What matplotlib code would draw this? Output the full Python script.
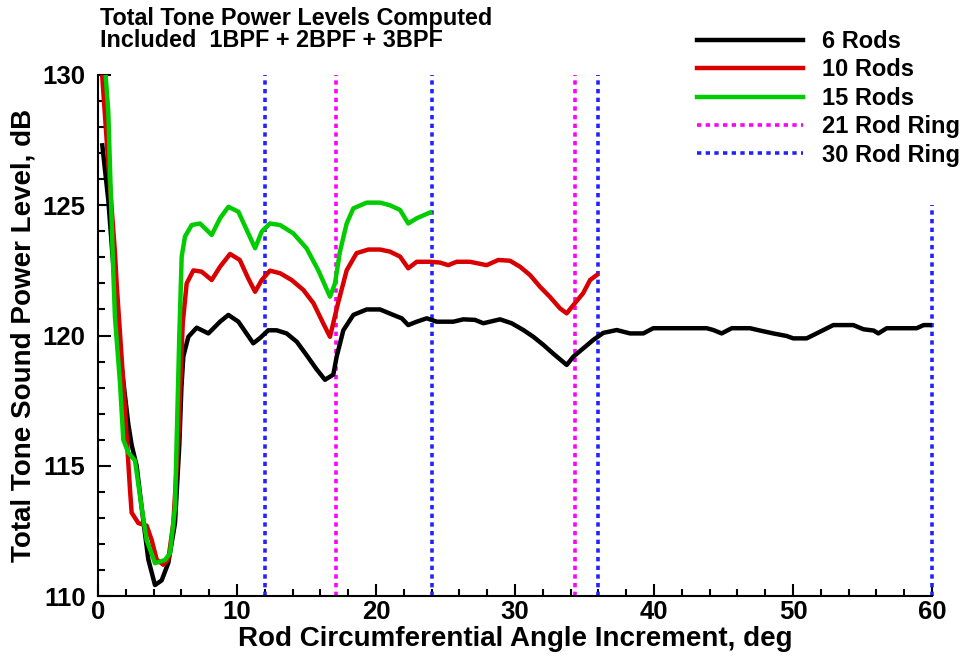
import matplotlib
matplotlib.use("Agg")
import matplotlib.pyplot as plt
from matplotlib.ticker import MultipleLocator

plt.rcParams['font.family'] = ['Liberation Sans', 'DejaVu Sans']
plt.rcParams['font.weight'] = 'bold'

# ---- data ----
x_6rods = [0.31, 0.74, 1.2, 1.7, 2.18, 2.42, 2.78, 3.14, 3.62, 4.1, 4.58, 5.06, 5.54, 5.85, 6.0,
           6.14, 6.5, 7.1, 7.94, 8.78, 9.38, 10.1, 11.17, 11.65, 12.25, 12.85, 13.57, 14.3, 15.0,
           15.73, 16.33, 16.93, 17.17, 17.65, 18.37, 19.33, 20.29, 21.24, 21.85, 22.32, 22.93,
           23.65, 24.37, 25.56, 26.28, 27.12, 27.72, 28.92, 29.76, 30.6, 31.32, 32.04, 32.76,
           33.72, 34.2, 34.92, 35.63, 36.35, 37.32, 38.27, 39.23, 39.95, 43.79, 44.27, 44.87,
           45.59, 46.9, 47.63, 48.58, 49.55, 50.02, 50.98, 51.7, 52.9, 54.34, 55.06, 55.8, 56.14,
           56.74, 58.9, 59.4, 59.9]
y_6rods = [127.3, 125.2, 122.0, 118.8, 116.6, 115.8, 115.0, 113.4, 111.4, 110.42, 110.6, 111.27,
           112.8, 115.8, 118.0, 119.2, 119.95, 120.3, 120.08, 120.53, 120.79, 120.53, 119.7, 119.9,
           120.2, 120.2, 120.08, 119.76, 119.25, 118.7, 118.3, 118.5, 119.19, 120.2, 120.79, 121.0,
           121.0, 120.79, 120.66, 120.4, 120.53, 120.66, 120.53, 120.53, 120.62, 120.6, 120.47,
           120.62, 120.47, 120.21, 119.95, 119.64, 119.3, 118.87, 119.19, 119.51, 119.83, 120.1,
           120.21, 120.08, 120.08, 120.28, 120.28, 120.21, 120.08, 120.28, 120.28, 120.19, 120.08,
           119.98, 119.89, 119.89, 120.08, 120.4, 120.4, 120.24, 120.19, 120.08, 120.28, 120.28,
           120.4, 120.4]

x_10rods = [0.3, 0.74, 1.22, 1.34, 1.82, 2.1, 2.3, 2.42, 2.9, 3.5, 3.86, 4.22, 4.7, 5.06, 5.42,
            5.78, 5.95, 6.1, 6.38, 6.86, 7.46, 8.18, 8.78, 9.5, 10.2, 10.8, 11.3, 11.78, 12.37,
            13.1, 13.93, 14.77, 15.5, 16.2, 16.69, 17.25, 17.89, 18.6, 19.45, 20.29, 21.0, 21.73,
            22.32, 22.93, 23.88, 24.6, 25.2, 25.8, 26.76, 27.96, 28.8, 29.64, 30.36, 31.08, 31.8,
            32.5, 33.24, 33.72, 34.2, 34.9, 35.4, 35.88]
y_10rods = [130.0, 126.6, 123.2, 122.0, 118.2, 115.8, 114.1, 113.2, 112.8, 112.7, 112.15, 111.4,
            111.2, 111.4, 112.8, 116.0, 118.5, 120.5, 122.0, 122.5, 122.45, 122.13, 122.64,
            123.13, 122.9, 122.2, 121.68, 122.13, 122.49, 122.39, 122.13, 121.75, 121.24, 120.47,
            119.95, 121.2, 122.5, 123.16, 123.3, 123.3, 123.22, 123.03, 122.58, 122.83, 122.83,
            122.8, 122.7, 122.83, 122.83, 122.7, 122.9, 122.87, 122.64, 122.32, 121.87, 121.49,
            121.04, 120.85, 121.17, 121.62, 122.13, 122.32]

x_15rods = [0.55, 0.74, 1.05, 1.22, 1.58, 1.82, 2.18, 2.66, 3.14, 3.5, 4.1, 4.82, 5.18, 5.54,
            5.66, 5.85, 6.02, 6.26, 6.74, 7.34, 8.18, 8.78, 9.38, 10.1, 10.7, 11.3, 11.78, 12.37,
            13.1, 14.05, 15.0, 15.85, 16.69, 17.05, 17.4, 17.89, 18.37, 19.33, 20.29, 21.0, 21.73,
            22.32, 22.93, 23.88]
y_15rods = [130.0, 128.6, 123.2, 120.7, 118.2, 116.0, 115.5, 115.2, 113.4, 112.15, 111.26, 111.38,
            111.64, 113.4, 116.0, 120.0, 123.03, 123.8, 124.24, 124.3, 123.86, 124.5, 124.94,
            124.75, 124.05, 123.35, 123.99, 124.3, 124.24, 123.92, 123.35, 122.5, 121.49, 122.0,
            123.2, 124.3, 124.88, 125.1, 125.1, 125.0, 124.82, 124.3, 124.5, 124.72]

ring21_x = [360 / 21, 720 / 21]
ring21_top = [130, 130]
ring30_x = [12, 24, 36, 60]
ring30_top = [130, 130, 130, 125]
y_bottom = 110

# ---- figure ----
fig = plt.figure(figsize=(9.65, 6.58), dpi=100)
ax = fig.add_axes([98 / 965, 1 - 596 / 658, (932 - 98) / 965, (596 - 75) / 658])

ax.plot(x_6rods, y_6rods, color='black', lw=3.2, label='6 Rods', zorder=3)
ax.plot(x_10rods, y_10rods, color='#d80000', lw=3.2, label='10 Rods', zorder=3)
ax.plot(x_15rods, y_15rods, color='#00cc00', lw=3.2, label='15 Rods', zorder=3)

dots = (0, (1.2, 1.2))
for i, (xv, top) in enumerate(zip(ring21_x, ring21_top)):
    ax.plot([xv, xv], [y_bottom, top], color='#ff00ff', lw=2.6, linestyle=dots,
            label='21 Rod Ring' if i == 0 else None, zorder=2)
for i, (xv, top) in enumerate(zip(ring30_x, ring30_top)):
    ax.plot([xv, xv], [y_bottom, top], color='#2222ff', lw=2.6, linestyle=dots,
            label='30 Rod Ring' if i == 0 else None, zorder=2, clip_on=False)

ax.set_xlim(0, 60)
ax.set_ylim(110, 130)
ax.xaxis.set_major_locator(MultipleLocator(10))
ax.xaxis.set_minor_locator(MultipleLocator(2))
ax.yaxis.set_major_locator(MultipleLocator(5))
ax.yaxis.set_minor_locator(MultipleLocator(1))
ax.tick_params(which='both', direction='in', width=1.5, labelsize=18.5, top=False, right=False)
ax.tick_params(which='major', length=9)
ax.tick_params(which='minor', length=5)
ax.tick_params(axis='x', pad=3)
ax.tick_params(axis='y', pad=9)
for lab in ax.get_xticklabels() + ax.get_yticklabels():
    lab.set_fontweight('bold')
for s in ['top', 'right']:
    ax.spines[s].set_visible(False)
for s in ['left', 'bottom']:
    ax.spines[s].set_linewidth(1.5)

ax.set_xlabel('Rod Circumferential Angle Increment, deg', fontsize=20, fontweight='bold', labelpad=1)
ax.set_ylabel('Total Tone Sound Power Level, dB', fontsize=20, fontweight='bold', labelpad=4)

fig.text(100 / 965, 1 - 7 / 658, 'Total Tone Power Levels Computed\nIncluded  1BPF + 2BPF + 3BPF',
         fontsize=16.8, fontweight='bold', ha='left', va='top', linespacing=0.92)

leg = ax.legend(loc='upper left', bbox_to_anchor=(697 / 965, 1 - 30 / 658),
                bbox_transform=fig.transFigure, frameon=False, fontsize=17,
                handlelength=4.5, handletextpad=0.8, labelspacing=0.23,
                borderpad=0, borderaxespad=0)
for t in leg.get_texts():
    t.set_fontweight('bold')

fig.savefig('out.png', dpi=100)
